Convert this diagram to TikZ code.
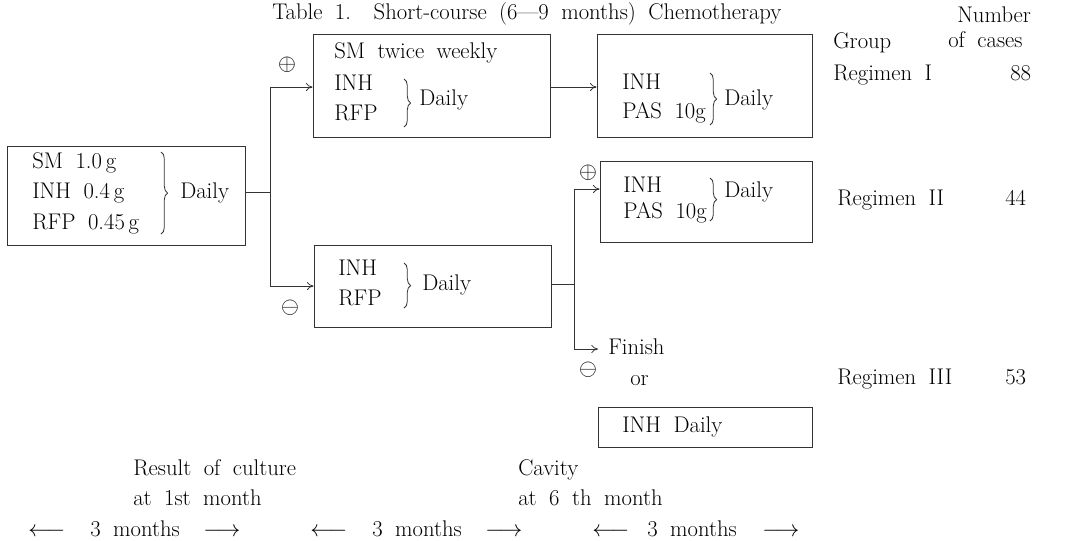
\documentclass[tikz,border=0pt]{standalone}
\usetikzlibrary{arrows.meta,decorations.pathreplacing,fit}
\newcommand\myfont{\fontsize{17}{20}\selectfont\spaceskip=0.55em plus 0.1em\relax}
\begin{document}
\begin{tikzpicture}[x=0.75pt,y=-0.75pt,
 line/.style={draw=black!80, line width=0.6pt},
 arr/.style={line, -{To[length=5pt,width=6pt]}},
 box/.style={line, inner sep=0pt},
 txt/.style={anchor=base west, inner sep=0pt, font=\myfont, text=black},
 sym/.style={inner sep=0pt, font=\myfont, text=black},
 brc/.style={line, decorate, decoration={brace, amplitude=5pt}}]
\useasboundingbox (0,0) rectangle (1066,540);

% title
\node[txt] (title) at (272,19) {Table 1.\quad Short-course (6---9 months) Chemotherapy};

% boxes
\node[box, fit={(7,146) (245,245)}] (b0) {};
\node[box, fit={(313,34) (550,137)}] (b1) {};
\node[box, fit={(597,34) (812,137)}] (b2) {};
\node[box, fit={(600,161) (812,242)}] (b3) {};
\node[box, fit={(314,245) (551,327)}] (b4) {};
\node[box, fit={(598,407) (812,447)}] (b5) {};

% box 0 text
\node[txt] (t0a) at (32,168) {SM 1.0\,g};
\node[txt] (t0b) at (32,198) {INH 0.4\,g};
\node[txt] (t0c) at (32,229) {RFP 0.45\,g};
\draw[brc] (161,152) -- (161,234);
\node[txt] (t0d) at (180,198) {Daily};

% box 1 text
\node[txt] (t1a) at (334,58) {SM twice weekly};
\node[txt] (t1b) at (334,90) {INH};
\node[txt] (t1c) at (334,120) {RFP};
\draw[brc] (404,79) -- (404,127);
\node[txt] (t1d) at (419,105) {Daily};

% box 2 text
\node[txt] (t2a) at (622,89) {INH};
\node[txt] (t2b) at (622,118) {PAS 10g};
\draw[brc] (710,73) -- (710,125);
\node[txt] (t2c) at (724,105) {Daily};

% box 3 text
\node[txt] (t3a) at (623,192) {INH};
\node[txt] (t3b) at (623,218) {PAS 10g};
\draw[brc] (710,178) -- (710,221);
\node[txt] (t3c) at (724,197) {Daily};

% box 4 text
\node[txt] (t4a) at (338,275) {INH};
\node[txt] (t4b) at (338,305) {RFP};
\draw[brc] (404,263) -- (404,308);
\node[txt] (t4c) at (422,290) {Daily};

% box 5 text
\node[txt] (t5a) at (622,432) {INH Daily};

% finish / or
\node[txt, inner xsep=7.5pt] (fin) at (598,354) {Finish};
\node[txt] (or) at (630,385) {or};

% plus / minus signs
\node[sym] (s1) at (287,65) {$\oplus$};
\node[sym] (s2) at (290,308) {$\ominus$};
\node[sym] (s3) at (588,173) {$\oplus$};
\node[sym] (s4) at (588,370) {$\ominus$};

% connectors
\coordinate (j0) at (270,192);
\coordinate (j1t) at (270,87);
\coordinate (j1b) at (270,286);
\draw[line] (b0.east |- j0) -- (j0);
\draw[line] (j1t) -- (j1b);
\draw[arr] (j1t) -- (b1.west |- j1t);
\draw[arr] (j1b) -- (b4.west |- j1b);
\draw[arr] (b1.east |- j1t) -- (b2.west |- j1t);
\coordinate (j2) at (574,284);
\coordinate (j2t) at (574,189);
\coordinate (j2b) at (574,349);
\draw[line] (b4.east |- j2) -- (j2);
\draw[line] (j2t) -- (j2b);
\draw[arr] (j2t) -- (b3.west |- j2t);
\draw[arr] (j2b) -- (fin.west |- j2b);

% right column
\node[txt] (hg) at (833,48) {Group};
\node[txt] (hn1) at (957,22) {Number};
\node[txt] (hn2) at (948,47) {of cases};
\node[txt] (r1) at (833,80) {Regimen I};
\node[txt] (n1) at (1010,80) {88};
\node[txt] (r2) at (837,205) {Regimen II};
\node[txt] (n2) at (1005,205) {44};
\node[txt] (r3) at (837,384) {Regimen III};
\node[txt] (n3) at (1005,384) {53};

% bottom
\node[txt] (c1) at (133,475) {Result of culture};
\node[txt] (c2) at (133,505) {at 1st month};
\node[txt] (c3) at (518,475) {Cavity};
\node[txt] (c4) at (518,505) {at 6 th month};

\node[txt] (m1l) at (28,536) {$\longleftarrow$};
\node[txt] (m1) at (90,536) {3 months};
\node[txt] (m1r) at (203,536) {$\longrightarrow$};
\node[txt] (m2l) at (310,536) {$\longleftarrow$};
\node[txt] (m2) at (372,536) {3 months};
\node[txt] (m2r) at (485,536) {$\longrightarrow$};
\node[txt] (m3l) at (592,536) {$\longleftarrow$};
\node[txt] (m3) at (647,536) {3 months};
\node[txt] (m3r) at (762,536) {$\longrightarrow$};
\end{tikzpicture}
\end{document}
